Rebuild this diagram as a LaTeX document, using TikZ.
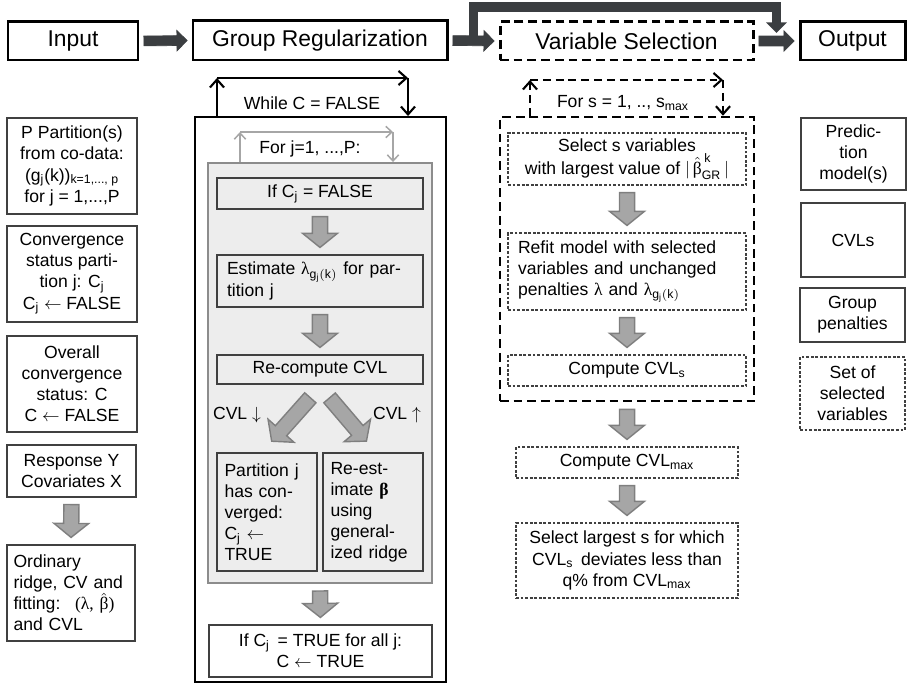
\documentclass[tikz,border=0pt]{standalone}
\usepackage{amsmath}
\usepackage{fontspec}
\setmainfont{Liberation Sans}
\newfontfamily\grfont{Liberation Serif}
\usetikzlibrary{arrows.meta,calc,positioning}

\definecolor{arrdark}{HTML}{3B3E41}
\definecolor{arrgray}{HTML}{A6A6A6}
\definecolor{arredge}{HTML}{7F7F7F}
\definecolor{panel}{HTML}{EDEDED}
\definecolor{panedge}{HTML}{8C8C8C}
\definecolor{edge}{HTML}{404040}

\newcommand\pxu{0.02cm}
\newcommand\lam{{\grfont λ}}
\newcommand\lamg{\lam$_{\mathrm{g}_{\mathrm{j}}\mathrm{(k)}}$}
\newcommand\bhat{$\hat{\text{\grfont β}}$}
\newcommand\bhatgr{$\hat{\text{\grfont β}}^{\,\text{k}}_{\text{GR}}$}

% block arrow: style, half shaft, half head, head length, gap, from, to
\newcommand\blockarrow[7]{%
  \draw[#1] let \p1=($(#6)!#5!(#7)$), \p2=($(#7)!#5!(#6)$),
    \p3=($(\p2)!#4!(\p1)$), \n1={atan2(\y2-\y1,\x2-\x1)} in
    ($(\p1)+({\n1+90}:#2)$) -- ($(\p3)+({\n1+90}:#2)$) -- ($(\p3)+({\n1+90}:#3)$)
    -- (\p2) -- ($(\p3)+({\n1-90}:#3)$) -- ($(\p3)+({\n1-90}:#2)$)
    -- ($(\p1)+({\n1-90}:#2)$) -- cycle;}
\newcommand\darkarrow[2]{\blockarrow{darkblk}{2.8pt}{5.8pt}{5.8pt}{2.5pt}{#1}{#2}}
\newcommand\grayarrow[2]{\blockarrow{grayblk}{4.3pt}{9.9pt}{8pt}{4pt}{#1}{#2}}

\begin{document}
\begin{tikzpicture}[x=0.02cm,y=-0.02cm,font=\fontsize{10}{12}\selectfont,
  sz/.style 2 args={minimum width=#1*\pxu,minimum height=#2*\pxu},
  head/.style={draw=black,line width=1.7pt,inner sep=0pt,font=\fontsize{13}{15}\selectfont},
  headdash/.style={head,dash pattern=on 5pt off 2.8pt},
  outbox/.style={draw=black,line width=1.1pt},
  vsdash/.style={draw=black,line width=1.5pt,dash pattern=on 5pt off 2.8pt},
  jpanel/.style={draw=panedge,fill=panel,line width=1.1pt},
  side/.style={draw=edge,line width=0.6pt,align=center,inner sep=1pt},
  sidedash/.style={side,dash pattern=on 1.6pt off 1pt},
  inbox/.style={side,fill=panel},
  darkblk/.style={fill=arrdark,draw=arrdark,line width=0.4pt},
  grayblk/.style={fill=arrgray,draw=arredge,line width=0.8pt},
  loopar/.style={draw=black,line width=1.2pt,-{Straight Barb[length=4.5pt,width=8pt]}},
  jloop/.style={draw=arrgray,line width=0.85pt,-{Straight Barb[length=3.5pt,width=6.5pt]}},
  sloop/.style={loopar,dash pattern=on 4.5pt off 2.8pt},
  bypass/.style={draw=arrdark,line width=5.5pt,-{Triangle[length=6pt,width=11.5pt]}}]
\useasboundingbox (0,0) rectangle (908,685);

% top row
\node[head,sz={130}{38}] (input) at (73,41) {Input};
\node[head,sz={254}{39}] (gr) at (320,40.5) {Group Regularization};
\node[headdash,sz={253}{38}] (vs) at (626.5,41) {Variable Selection};
\node[head,sz={105}{38}] (out) at (852.5,41) {Output};

\darkarrow{input.east}{gr.west}
\darkarrow{gr.east}{vs.west}
\darkarrow{vs.east}{out.west}
\coordinate (bs) at ($(gr.east)!0.5!(vs.west)$);
\coordinate (bt) at (0,7);
\coordinate (be) at ($(vs.east)!0.5!(out.west)+(0,-8)$);
\draw[bypass] (bs) -- (bs |- bt) -| (be);

% input column
\node[side,sz={130}{96}] (part) at (72,166) {P Partition(s)\\from co-data:\\(g\textsubscript{j}(k))\textsubscript{k=1,..., p}\\for j = 1,...,P};
\node[side,sz={130}{96}] (convst) at (72,274) {Convergence\\status parti-\\tion j: C\textsubscript{j}\\C\textsubscript{j} $\leftarrow$ FALSE};
\node[side,sz={130}{96}] (overall) at (72,384) {Overall\\convergence\\status: C\\C $\leftarrow$ FALSE};
\node[side,sz={129}{52}] (resp) at (71.5,471) {Response Y\\Covariates X};
\node[side,sz={128}{96},align=left,text width=2.3cm] (ord) at (71,593) {Ordinary\\ridge, CV and\\fitting:~ {\grfont(λ, }\bhat{\grfont)}\\and CVL};
\grayarrow{resp.south}{ord.north}

% group regularization
\node[outbox,sz={251}{565}] (grbox) at (320.5,399.5) {};
\coordinate (wl) at (217,78);
\coordinate (wr) at (408,78);
\draw[loopar] (grbox.north -| wl) -- (wl);
\draw[loopar] (wl) -- (wr);
\draw[loopar] (wr) -- (grbox.north -| wr);
\node (while) at (312,103) {While C = FALSE};

\node[jpanel,sz={224}{420}] (jbox) at (320,373) {};
\coordinate (jl) at (240,132);
\coordinate (jr) at (393,132);
\draw[jloop] (jbox.north -| jl) -- (jl);
\draw[jloop] (jl) -- (jr);
\draw[jloop] (jr) -- (jbox.north -| jr);
\node (forj) at (310,149) {For j=1, ...,P:};

\node[inbox,sz={206}{31}] (ifc) at (320,193.5) {If C\textsubscript{j} = FALSE};
\node[inbox,sz={206}{52},align=left,text width=3.72cm] (est) at (320,281) {Estimate \lamg\ for par-\\tition j};
\node[inbox,sz={206}{29}] (recomp) at (320,369.5) {Re-compute CVL};
\node[inbox,sz={100}{118},align=left,text width=1.7cm] (conv) at (267,512) {Partition j\\has con-\\verged:\\C\textsubscript{j} $\leftarrow$\\TRUE};
\node[inbox,sz={100}{118},align=left,text width=1.7cm] (reest) at (373,512) {Re-est-\\imate {\grfont\bfseries β}\\using\\general-\\ized ridge};
\node (cvldown) at (237,415) {CVL $\downarrow$};
\node (cvlup) at (397,415) {CVL $\uparrow$};
\node[side,sz={223}{52}] (allc) at (320.5,651) {If C\textsubscript{j}\, = TRUE for all j:\\C $\leftarrow$ TRUE};

\grayarrow{ifc.south}{est.north}
\grayarrow{est.south}{recomp.north}
\coordinate (dl0) at ($(recomp.south)+(-5,8)$);
\coordinate (dl1) at ($(conv.north)+(0,-6)$);
\coordinate (dr0) at ($(recomp.south)+(5,8)$);
\coordinate (dr1) at ($(reest.north)+(-2,-6)$);
\grayarrow{dl0}{dl1}
\grayarrow{dr0}{dr1}
\grayarrow{jbox.south}{allc.north}

% variable selection
\node[vsdash,sz={254}{284}] (vsbox) at (627,259) {};
\coordinate (sl) at (530,80);
\coordinate (sr) at (723,80);
\draw[sloop] (vsbox.north -| sl) -- (sl);
\draw[sloop] (sl) -- (sr);
\draw[sloop] (sr) -- (vsbox.north -| sr);
\node (fors) at (623,103) {For s = 1, .., s\textsubscript{max}};

\node[sidedash,sz={238}{52}] (sel) at (627,159) {Select s variables\\with largest value of $|$\,\bhatgr\,$|$};
\node[sidedash,sz={238}{77},align=left,text width=4.36cm] (refit) at (627,271.5) {Refit model with selected\\variables and unchanged\\penalties \lam{} and \lamg};
\node[sidedash,sz={238}{31}] (cvls) at (627,370.5) {Compute CVL\textsubscript{s}};
\node[sidedash,sz={222}{31}] (cvlmax) at (627,462.5) {Compute CVL\textsubscript{max}};
\node[sidedash,sz={222}{75}] (largest) at (627,560.5) {Select largest s for which\\CVL\textsubscript{s}\, deviates less than\\q\% from CVL\textsubscript{max}};

\grayarrow{sel.south}{refit.north}
\grayarrow{refit.south}{cvls.north}
\grayarrow{vsbox.south}{cvlmax.north}
\grayarrow{cvlmax.south}{largest.north}

% output column
\node[side,sz={105}{72}] (pred) at (853.5,154) {Predic-\\tion\\model(s)};
\node[side,sz={104}{74}] (cvlsout) at (853,240) {CVLs};
\node[side,sz={105}{54}] (pen) at (852.5,315) {Group\\penalties};
\node[sidedash,sz={105}{73}] (setsel) at (852.5,393.5) {Set of\\selected\\variables};
\end{tikzpicture}
\end{document}
